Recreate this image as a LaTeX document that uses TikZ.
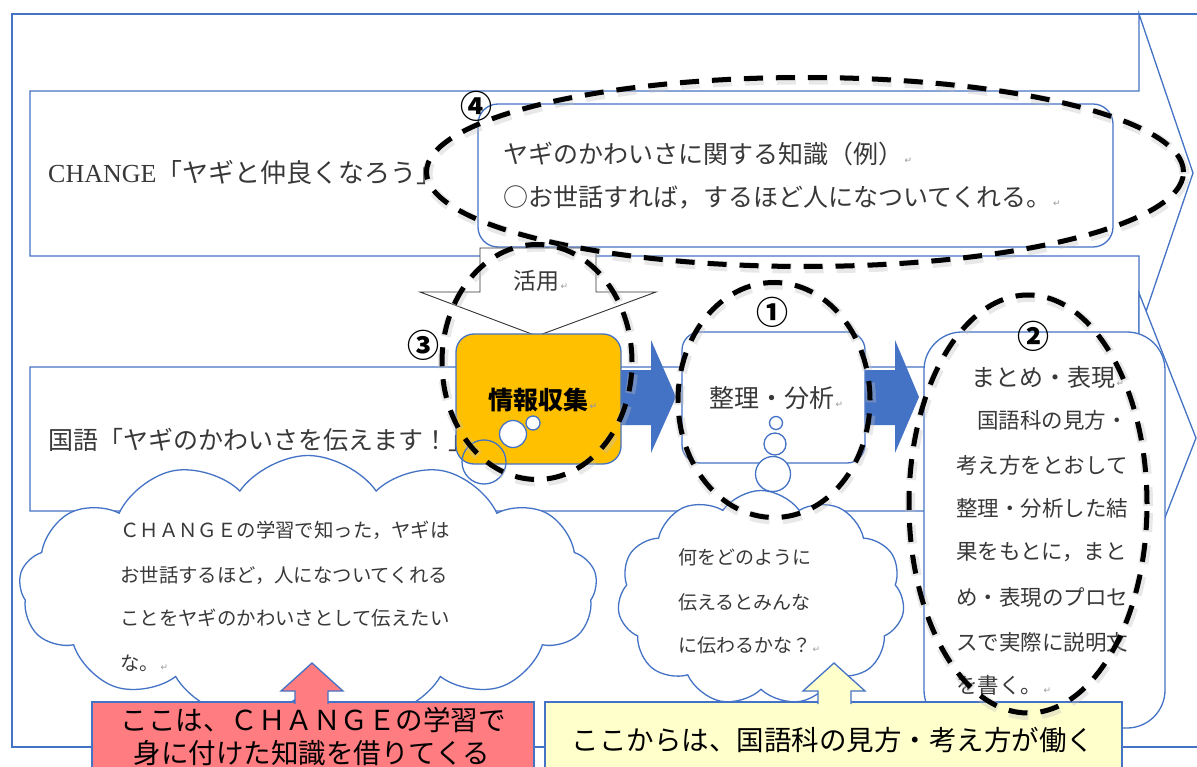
\documentclass[tikz,border=0pt]{standalone}
\usepackage{fontspec}
\setmainfont{Liberation Serif}
\newfontfamily\jp{Noto Sans CJK JP}
\newfontfamily\dvs{DejaVu Sans}
\usetikzlibrary{shapes.symbols,shapes.geometric}
\definecolor{obl}{HTML}{4472C4}
\definecolor{org}{HTML}{FFC000}
\definecolor{salm}{HTML}{FF7C80}
\definecolor{lyel}{HTML}{FFFFCC}
\definecolor{txt}{HTML}{383838}
\newcommand{\myfs}[1]{\fontsize{#1}{#1}\selectfont}
\newcommand{\retmark}{{\dvs\fontsize{9}{9}\selectfont\color{black!40}\,↵}}
\tikzset{
  bl/.style={draw=obl, line width=1.3pt},
  rbox/.style={rectangle, draw=obl, line width=1.3pt, rounded corners=#1, fill=white, inner sep=0pt},
  tx/.style={inner sep=0pt, anchor=west, text=txt, font=\jp},
  ann/.style={ellipse, draw=black, line width=5pt, dash pattern=on 19pt off 13pt, inner sep=0pt},
  annsh/.style={ellipse, draw=black!25, opacity=.35, line width=10pt, dash pattern=on 19pt off 13pt, inner sep=0pt},
  cnum/.style={font=\jp\bfseries\myfs{32}, inner sep=0pt, text=black},
  bubble/.style={circle, draw=obl, line width=1.3pt, fill=white, inner sep=0pt},
  cloudbox/.style={cloud, draw=obl, line width=1.3pt, fill=white, inner sep=0pt},
  blockarrow/.style={draw=obl, line width=1.3pt, line join=miter},
}
\newcommand{\annot}[5]{%
  \node[annsh, minimum width=#4pt, minimum height=#5pt] (#1s) at (#2+1,#3+2) {};
  \node[ann, minimum width=#4pt, minimum height=#5pt] (#1) at (#2,#3) {};}
\begin{document}
\begin{tikzpicture}[x=1pt,y=-1pt]
\useasboundingbox (0,0) rectangle (1197,767);
\clip (0,0) rectangle (1197,767);
\fill[white] (0,0) rectangle (1197,767);
% outer frame
\draw[bl] (1197,14) -- (12,14) -- (12,747) -- (1197,747);
% upper (CHANGE) arrow
\draw[blockarrow, fill=white] (30,91) -- (1139,91) -- (1139,14) -- (1193,173) -- (1139,332) -- (1139,256) -- (30,256) -- cycle;
% lower (kokugo) arrow
\draw[blockarrow, fill=white] (30,367) -- (1139,367) -- (1139,293) -- (1196,438) -- (1139,584) -- (1139,511) -- (30,511) -- cycle;
% row titles
\node[tx, font=\rmfamily\myfs{26}] (tchange) at (48,173) {CHANGE{\jp「ヤギと仲良くなろう」}};
\node[tx, font=\jp\myfs{25}] (tkokugo) at (48,440) {国語「ヤギのかわいさを伝えます！」};
% knowledge box
\node[rbox=20pt, minimum width=635pt, minimum height=143pt] (know) at (795.5,175.5) {};
\node[tx, font=\jp\myfs{25}] (k1) at (503,154) {ヤギのかわいさに関する知識（例）\retmark};
\node[tx, font=\jp\myfs{25}] (k2) at (503,197) {○お世話すれば，するほど人になついてくれる。\retmark};
% katsuyo arrow
\draw[draw=black!80, line width=0.9pt, fill=white, line join=miter] (480,248) -- (596,248) -- (596,292) -- (656,292) -- (537,336) -- (420,292) -- (480,292) -- cycle;
\node[tx, font=\jp\myfs{23}] (katsuyo) at (513,281) {活用\retmark};
% blue chevrons
\fill[obl] (615,370) -- (651,370) -- (651,340) -- (676,397) -- (651,453) -- (651,425) -- (615,425) -- cycle;
\fill[obl] (860,370) -- (895,370) -- (895,340) -- (919,397) -- (895,453) -- (895,425) -- (860,425) -- cycle;
% clouds
\node[cloudbox, cloud puffs=13, cloud puff arc=110, minimum width=578pt, minimum height=265pt] (cloudL) at (308,588) {};
\node[cloudbox, cloud puffs=11, cloud puff arc=110, minimum width=287pt, minimum height=215pt] (cloudM) at (761,598) {};
% process boxes
\node[rbox=18pt, fill=org, minimum width=165pt, minimum height=130pt] (joho) at (538.5,399) {};
\node[tx, font=\jp\bfseries\myfs{25}, text=black] (johot) at (488,400) {情報収集\retmark};
\node[rbox=18pt, minimum width=183pt, minimum height=131pt] (seiri) at (773.5,397.5) {};
\node[tx, font=\jp\myfs{25}] (seirit) at (709,398) {整理・分析\retmark};
\node[rbox=38pt, minimum width=241pt, minimum height=396pt] (matome) at (1044.5,530) {};
\node[tx, font=\jp\myfs{24}] (m0) at (971,377) {まとめ・表現\retmark};
\node[tx, font=\jp\myfs{21.5}] (m1) at (977,420) {国語科の見方・};
\node[tx, font=\jp\myfs{21.5}] (m2) at (956,465) {考え方をとおして};
\node[tx, font=\jp\myfs{21.5}] (m3) at (956,508) {整理・分析した結};
\node[tx, font=\jp\myfs{21.5}] (m4) at (956,552) {果をもとに，まと};
\node[tx, font=\jp\myfs{21.5}] (m5) at (956,597) {め・表現のプロセ};
\node[tx, font=\jp\myfs{21.5}] (m6) at (956,642) {スで実際に説明文};
\node[tx, font=\jp\myfs{21.5}] (m7) at (956,685) {を書く。\retmark};
% cloud texts
\node[tx, font=\jp\myfs{19.4}] (c1) at (120,530) {ＣＨＡＮＧＥの学習で知った，ヤギは};
\node[tx, font=\jp\myfs{19.4}] (c2) at (120,575) {お世話するほど，人になついてくれる};
\node[tx, font=\jp\myfs{19.4}] (c3) at (120,618) {ことをヤギのかわいさとして伝えたい};
\node[tx, font=\jp\myfs{19.4}] (c4) at (120,663) {な。\retmark};
\node[tx, font=\jp\myfs{19}] (d1) at (678,557) {何をどのように};
\node[tx, font=\jp\myfs{19}] (d2) at (678,602) {伝えるとみんな};
\node[tx, font=\jp\myfs{19}] (d3) at (678,645) {に伝わるかな？\retmark};
% thought bubbles
\node[bubble, fill=none, minimum size=44pt] (b3) at (484,462) {};
\node[bubble, minimum size=27pt] (b2) at (513,434) {};
\node[bubble, minimum size=14pt] (b1) at (533,423) {};
\node[bubble, minimum size=35pt] (s3) at (773,474) {};
\node[bubble, minimum size=22pt] (s2) at (775,444) {};
\node[bubble, minimum size=13pt] (s1) at (776,423) {};
% bottom notes
\node[rectangle, draw=obl, line width=1.3pt, fill=salm, minimum width=442pt, minimum height=80pt, inner sep=0pt] (redb) at (313,742) {};
\draw[blockarrow, fill=salm] (295,704) -- (295,691) -- (281,691) -- (312,663) -- (343,691) -- (328,691) -- (328,704);
\node[inner sep=0pt, font=\jp\myfs{27.5}, text=black] (r1) at (313,720) {ここは、ＣＨＡＮＧＥの学習で};
\node[inner sep=0pt, font=\jp\myfs{27.5}, text=black] (r2) at (312,753) {身に付けた知識を借りてくる};
\node[rectangle, draw=obl, line width=1.3pt, fill=lyel, minimum width=577pt, minimum height=80pt, inner sep=0pt] (yelb) at (833.5,742) {};
\draw[blockarrow, fill=lyel] (818,704) -- (818,691) -- (803,691) -- (834,663) -- (865,691) -- (851,691) -- (851,704);
\node[inner sep=0pt, font=\jp\myfs{27.5}, text=black] (y1) at (833,740) {ここからは、国語科の見方・考え方が働く};
% dashed annotations
\annot{e4}{805}{172}{757}{189}
\annot{e3}{537}{362}{190}{235}
\annot{e1}{774}{400}{192}{235}
\annot{e2}{1028}{504}{238}{418}
\node[cnum] (n4) at (476,106) {④};
\node[cnum] (n3) at (423,345) {③};
\node[cnum] (n1) at (772,312) {①};
\node[cnum] (n2) at (1033,336) {②};
\end{tikzpicture}
\end{document}
